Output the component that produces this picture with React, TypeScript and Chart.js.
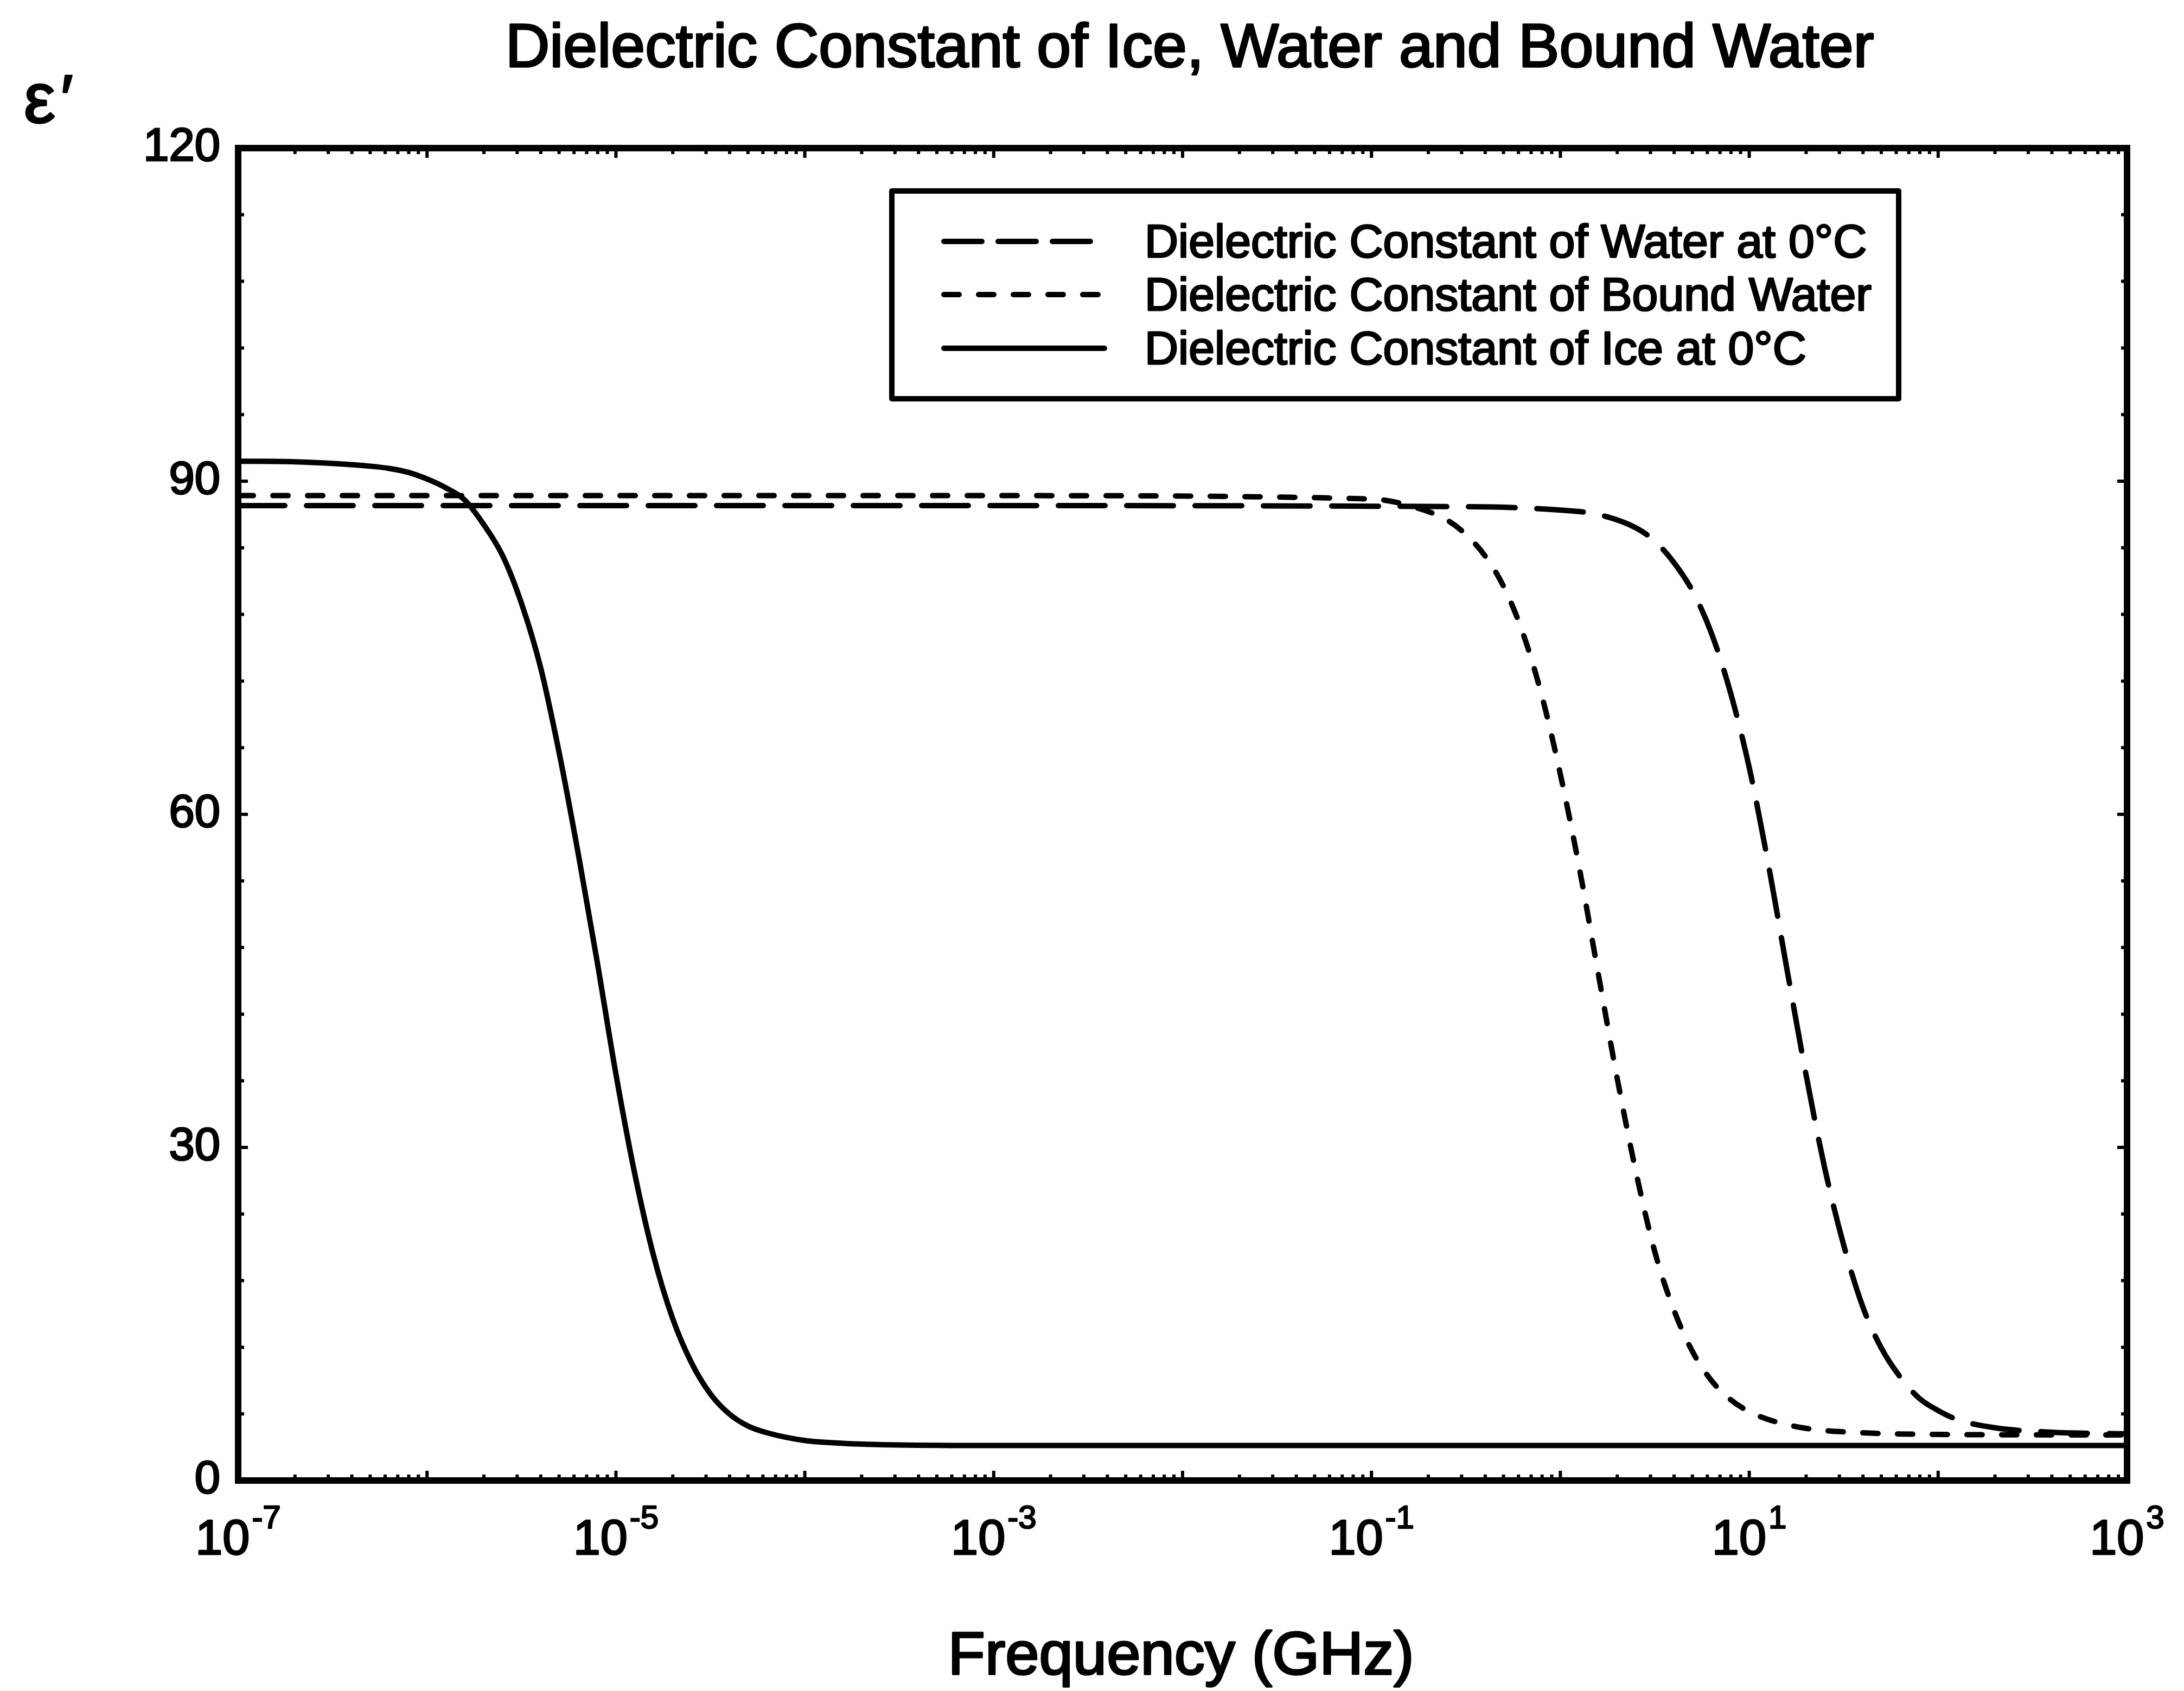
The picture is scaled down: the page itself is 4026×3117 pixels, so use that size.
import { useEffect, useRef } from "react";
import { Chart, registerables } from "chart.js";

Chart.register(...registerables);

const W = 4026;
const H = 3117;
const FONT = "'Liberation Sans', Arial, Helvetica, sans-serif";

// Labels
const chartTitle = "Dielectric Constant of Ice, Water and Bound Water";
const xTitle = "Frequency (GHz)";
const yTitleSymbol = "ε";
const yTitlePrime = "′";
const waterLabel = "Dielectric Constant of Water at 0°C";
const boundLabel = "Dielectric Constant of Bound Water";
const iceLabel = "Dielectric Constant of Ice at 0°C";

// Axis ticks
const xTickExponents = [-7, -5, -3, -1, 1, 3];
const yTickValues = [0, 30, 60, 90, 120];

// Water at 0 °C: log10(frequency / GHz) and ε'
const waterLogF = [-7, -3, -0.5, 0.0, 0.2, 0.4, 0.5, 0.6, 0.7, 0.8, 0.9, 1.0, 1.1, 1.2, 1.3, 1.4, 1.5, 1.6, 1.7, 1.8, 1.9, 2.0, 2.1, 2.3, 2.6, 3];
const waterEps = [87.8, 87.8, 87.7, 87.4, 87.0, 85.8, 84.6, 82.7, 80.1, 76.3, 71.0, 64.2, 55.6, 46.0, 36.6, 28.1, 21.2, 15.7, 11.9, 9.3, 7.4, 6.3, 5.5, 4.75, 4.35, 4.2];

// Bound water
const boundLogF = [-7, -3, -1.0, -0.8, -0.6, -0.5, -0.4, -0.3, -0.2, -0.1, 0.0, 0.1, 0.2, 0.3, 0.4, 0.5, 0.6, 0.7, 0.8, 0.9, 1.0, 1.1, 1.3, 1.6, 2.0, 3];
const boundEps = [88.7, 88.7, 88.4, 87.8, 86.5, 85.2, 83.3, 80.5, 76.4, 70.8, 63.6, 55.2, 45.7, 36.3, 27.8, 20.6, 15.4, 11.6, 9.0, 7.3, 6.2, 5.5, 4.7, 4.3, 4.15, 4.1];

// Ice at 0 °C
const iceLogF = [-7, -6.7, -6.5, -6.3, -6.2, -6.1, -6.0, -5.9, -5.8, -5.7, -5.6, -5.5, -5.4, -5.3, -5.2, -5.1, -5.0, -4.9, -4.8, -4.7, -4.6, -4.5, -4.4, -4.3, -4.2, -4.0, -3.8, -3.5, -3.0, 0, 3];
const iceEps = [91.8, 91.75, 91.6, 91.35, 91.15, 90.8, 90.2, 89.4, 88.3, 86.1, 83.3, 79.0, 73.3, 65.5, 56.5, 46.8, 36.6, 27.6, 20.2, 14.6, 10.6, 7.8, 6.0, 4.9, 4.3, 3.6, 3.35, 3.2, 3.15, 3.15, 3.15];

const toPoints = (logF: number[], eps: number[]) =>
  logF.map((lf, i) => ({ x: Math.pow(10, lf), y: eps[i] }));

// Filled text with a thin outline, for the heavy print look of the labels
function heavyText(ctx: CanvasRenderingContext2D, text: string, x: number, y: number, stroke: number) {
  ctx.fillText(text, x, y);
  ctx.lineWidth = stroke;
  ctx.lineJoin = "round";
  ctx.strokeText(text, x, y);
}

// Frame, inward ticks, exponent tick labels, titles and the boxed legend
const decorations = {
  id: "decorations",
  beforeDraw(chart: any) {
    const { ctx } = chart;
    ctx.save();
    ctx.fillStyle = "#ffffff";
    ctx.fillRect(0, 0, chart.width, chart.height);
    ctx.restore();
  },
  afterDraw(chart: any) {
    const { ctx, chartArea: a, scales } = chart;
    const xs = scales.x;
    const ys = scales.y;
    ctx.save();
    ctx.strokeStyle = "#000";
    ctx.fillStyle = "#000";
    ctx.lineCap = "butt";
    ctx.setLineDash([]);

    // inward ticks on all four sides
    ctx.lineWidth = 6;
    ctx.beginPath();
    for (let e = -7; e <= 3; e++) {
      for (let m = 1; m <= 9; m++) {
        const v = m * Math.pow(10, e);
        if (v > 1.0001e3) break;
        const px = xs.getPixelForValue(v);
        const len = m === 1 ? 18 : 11;
        ctx.moveTo(px, a.bottom);
        ctx.lineTo(px, a.bottom - len);
        ctx.moveTo(px, a.top);
        ctx.lineTo(px, a.top + len);
      }
    }
    for (let v = 0; v <= 120; v += 6) {
      const py = ys.getPixelForValue(v);
      const len = v % 30 === 0 ? 18 : 11;
      ctx.moveTo(a.left, py);
      ctx.lineTo(a.left + len, py);
      ctx.moveTo(a.right, py);
      ctx.lineTo(a.right - len, py);
    }
    ctx.stroke();

    // frame
    ctx.lineWidth = 12;
    ctx.strokeRect(a.left, a.top, a.right - a.left, a.bottom - a.top);

    // x tick labels: 10 with superscript exponent
    const baseFont = `90px ${FONT}`;
    const supFont = `60px ${FONT}`;
    ctx.textBaseline = "alphabetic";
    ctx.textAlign = "left";
    xTickExponents.forEach((ex) => {
      const px = xs.getPixelForValue(Math.pow(10, ex));
      ctx.font = baseFont;
      const w1 = ctx.measureText("10").width;
      ctx.font = supFont;
      const sup = String(ex);
      const w2 = ctx.measureText(sup).width;
      const start = px - (w1 + 4 + w2) / 2;
      ctx.font = baseFont;
      heavyText(ctx, "10", start, 2865, 3);
      ctx.font = supFont;
      heavyText(ctx, sup, start + w1 + 4, 2817, 2.5);
    });

    // titles
    ctx.textAlign = "center";
    ctx.font = `113px ${FONT}`;
    heavyText(ctx, chartTitle, 2193, 123, 3.5);
    ctx.font = `112px ${FONT}`;
    heavyText(ctx, xTitle, 2177, 3086, 3.5);
    ctx.textAlign = "left";
    ctx.font = `130px ${FONT}`;
    heavyText(ctx, yTitleSymbol, 44, 226, 3.5);
    ctx.font = `120px ${FONT}`;
    heavyText(ctx, yTitlePrime, 112, 222, 3.5);

    // legend
    const lg = { left: 1644, top: 352, right: 3500, bottom: 735 };
    ctx.lineWidth = 10;
    ctx.strokeRect(lg.left, lg.top, lg.right - lg.left, lg.bottom - lg.top);
    const rowY = [445, 543, 642];
    chart.data.datasets.forEach((ds: any, r: number) => {
      ctx.save();
      ctx.lineWidth = ds.borderWidth;
      ctx.lineCap = ds.borderCapStyle || "butt";
      ctx.setLineDash(ds.legendDash || ds.borderDash || []);
      ctx.beginPath();
      ctx.moveTo(1740, rowY[r]);
      ctx.lineTo(2036, rowY[r]);
      ctx.stroke();
      ctx.restore();
      ctx.font = `86px ${FONT}`;
      heavyText(ctx, ds.label, 2110, rowY[r] + 29, 3);
    });
    ctx.restore();
  },
};

export default function App() {
  const ref = useRef<HTMLCanvasElement | null>(null);

  useEffect(() => {
    const canvas = ref.current;
    if (!canvas) return;
    const chart = new Chart(canvas, {
      type: "line",
      data: {
        datasets: [
          {
            label: waterLabel,
            data: toPoints(waterLogF, waterEps),
            borderColor: "#000",
            borderWidth: 10,
            borderDash: [86, 40],
            legendDash: [70, 30],
            borderCapStyle: "round",
            pointRadius: 0,
            cubicInterpolationMode: "monotone",
            fill: false,
          } as any,
          {
            label: boundLabel,
            data: toPoints(boundLogF, boundEps),
            borderColor: "#000",
            borderWidth: 10,
            borderDash: [28, 36],
            borderCapStyle: "round",
            pointRadius: 0,
            cubicInterpolationMode: "monotone",
            fill: false,
          } as any,
          {
            label: iceLabel,
            data: toPoints(iceLogF, iceEps),
            borderColor: "#000",
            borderWidth: 10,
            borderCapStyle: "round",
            pointRadius: 0,
            cubicInterpolationMode: "monotone",
            fill: false,
          } as any,
        ],
      },
      options: {
        animation: false,
        responsive: false,
        devicePixelRatio: 1,
        layout: { padding: { left: 0, right: 105, top: 273, bottom: 388 } },
        plugins: {
          legend: { display: false },
          title: { display: false },
          tooltip: { enabled: false },
        },
        scales: {
          x: {
            type: "logarithmic",
            min: 1e-7,
            max: 1e3,
            ticks: { display: false },
            grid: { display: false, drawTicks: false },
            border: { display: false },
            afterFit: (s: any) => {
              s.height = 0;
            },
          },
          y: {
            type: "linear",
            min: 0,
            max: 120,
            afterBuildTicks: (s: any) => {
              s.ticks = yTickValues.map((v) => ({ value: v }));
            },
            ticks: {
              color: "#000",
              padding: 33,
              font: { family: FONT, size: 85 },
              textStrokeColor: "#000",
              textStrokeWidth: 3,
            },
            grid: { display: false, drawTicks: false },
            border: { display: false },
            afterFit: (s: any) => {
              s.width = 439;
            },
          },
        },
      },
      plugins: [decorations],
    });
    return () => chart.destroy();
  }, []);

  return (
    <div style={{ position: "fixed", left: 0, top: 0, width: W, height: H, background: "#fff" }}>
      <canvas ref={ref} width={W} height={H} style={{ width: W, height: H, display: "block" }} />
    </div>
  );
}
